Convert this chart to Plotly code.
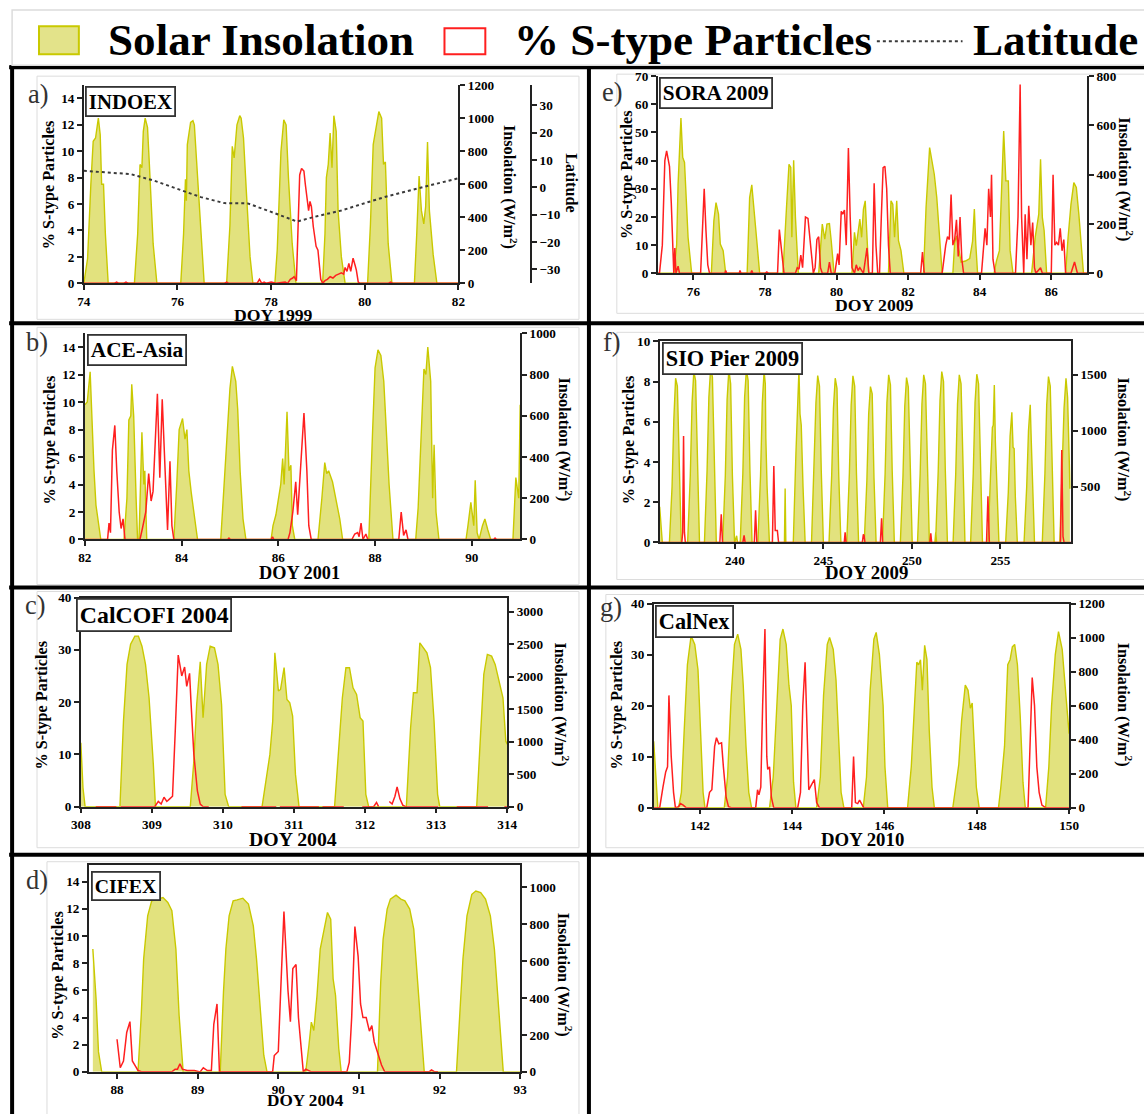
import plotly.graph_objects as go

# The page is shown with the browser's 8 px body margin and then fitted to the
# window, so layout positions are given in window pixels and mapped back here.
WIN_W, WIN_H = 1144, 1114
BODY = 8
SX = (WIN_W + 2 * BODY) / WIN_W
SY = (WIN_H + 2 * BODY) / WIN_H
W, H = WIN_W, WIN_H
SERIF = "Liberation Serif"
YELLOW_LINE = "#c9c900"
YELLOW_FILL = "rgba(206,206,40,0.6)"
RED = "#ff1f1f"
AXIS = "#222222"


def fx(px):
    return (px * SX - BODY) / W


def fy(py):
    return 1 - (py * SY - BODY) / H


def fs(size):
    return round(size * SX, 1)


# ---------------- data: (DOY, value) ----------------
# a) INDOEX 1999
A_INSOLATION = [
    (74.0, 0), (74.08, 150), (74.15, 600), (74.2, 860), (74.25, 880), (74.28, 960), (74.31, 1000),
    (74.35, 900), (74.38, 600), (74.42, 600), (74.46, 300), (74.52, 0),
    (75.08, 0), (75.15, 300), (75.2, 720), (75.24, 700), (75.27, 920), (75.31, 1000), (75.36, 945),
    (75.4, 720), (75.44, 500), (75.48, 240), (75.56, 0),
    (76.07, 0), (76.13, 300), (76.17, 630), (76.19, 500), (76.21, 840), (76.28, 975), (76.33, 985),
    (76.36, 960), (76.41, 720), (76.49, 320), (76.57, 0),
    (77.05, 0), (77.12, 350), (77.17, 830), (77.21, 760), (77.27, 960), (77.33, 1015), (77.36, 1000),
    (77.41, 880), (77.47, 560), (77.55, 160), (77.61, 0),
    (78.08, 0), (78.13, 200), (78.17, 520), (78.21, 800), (78.27, 990), (78.32, 960), (78.37, 640),
    (78.45, 240), (78.53, 0),
    (79.1, 0), (79.15, 300), (79.18, 640), (79.22, 720), (79.26, 910), (79.3, 700), (79.34, 1015),
    (79.39, 920), (79.43, 440), (79.5, 160), (79.58, 0),
    (80.06, 0), (80.12, 350), (80.18, 840), (80.26, 960), (80.3, 1040), (80.36, 1000), (80.4, 720),
    (80.44, 735), (80.5, 240), (80.58, 0),
    (81.06, 0), (81.11, 300), (81.16, 650), (81.21, 440), (81.26, 360), (81.3, 465), (81.34, 855),
    (81.38, 440), (81.46, 175), (81.54, 0), (82.0, 0),
]
A_STYPE = [
    (74.0, 0), (74.65, 0), (74.7, 0.1), (74.75, 0), (74.85, 0), (74.9, 0.1), (74.95, 0), (77.0, 0),
    (77.05, 0.1), (77.1, 0), (77.7, 0), (77.75, 0.3), (77.8, 0), (77.85, 0.1), (77.9, 0), (78.0, 0.1),
    (78.1, 0), (78.3, 0.1), (78.35, 0), (78.41, 0.3), (78.46, 0.4), (78.49, 0.5), (78.54, 0.2),
    (78.57, 3), (78.61, 8.2), (78.65, 8.7), (78.7, 8.5), (78.73, 7.5), (78.76, 6.8), (78.8, 5.5),
    (78.83, 6.2), (78.86, 5.8), (78.9, 4.3), (78.93, 3.5), (78.96, 2.8), (79.0, 2.5), (79.03, 1.2),
    (79.06, 0.3), (79.1, 0), (79.15, 0.2), (79.2, 0.3), (79.26, 0.5), (79.32, 0.4), (79.38, 0.6),
    (79.44, 0.7), (79.5, 0.8), (79.55, 0.7), (79.58, 1.2), (79.62, 0.9), (79.66, 1.5), (79.7, 0.9),
    (79.75, 1.9), (79.79, 1.4), (79.82, 1.0), (79.86, 0.1), (79.9, 0), (80.5, 0), (80.55, 0.1),
    (80.6, 0), (82.0, 0),
]
A_LATITUDE = [
    (74.0, 6.0), (74.5, 5.3), (75.0, 4.8), (75.5, 2.4), (76.0, -0.6), (76.5, -3.6), (77.0, -5.8),
    (77.5, -5.9), (78.0, -9.0), (78.55, -12.5), (79.0, -10.5), (79.5, -8.5), (80.0, -5.8),
    (80.5, -3.2), (81.0, -1.0), (81.5, 1.2), (82.0, 3.3),
]

# b) ACE-Asia 2001
B_INSOLATION = [
    (82.0, 653), (82.05, 667), (82.11, 813), (82.15, 533), (82.19, 333), (82.23, 167), (82.29, 67),
    (82.33, 0),
    (82.81, 0), (82.87, 200), (82.91, 580), (82.95, 600), (82.97, 753), (83.01, 600), (83.06, 200),
    (83.09, 0), (83.12, 0), (83.14, 200), (83.18, 520), (83.22, 267), (83.24, 333), (83.28, 0),
    (83.84, 0), (83.9, 267), (83.95, 533), (84.02, 587), (84.07, 487), (84.11, 533), (84.15, 333),
    (84.2, 227), (84.26, 133), (84.33, 0),
    (84.81, 0), (84.88, 267), (84.94, 513), (85.0, 733), (85.05, 840), (85.12, 767), (85.16, 633),
    (85.21, 333), (85.27, 100), (85.33, 0),
    (85.85, 0), (85.89, 67), (85.95, 120), (86.05, 267), (86.09, 393), (86.12, 267), (86.18, 620),
    (86.22, 333), (86.26, 360), (86.29, 67), (86.34, 0),
    (86.82, 0), (86.9, 200), (86.96, 373), (87.0, 320), (87.04, 333), (87.12, 280), (87.19, 200),
    (87.27, 100), (87.33, 0),
    (87.87, 0), (87.95, 533), (88.0, 833), (88.06, 920), (88.12, 893), (88.18, 767), (88.23, 533),
    (88.29, 267), (88.37, 0),
    (88.84, 0), (88.89, 153), (88.95, 533), (89.01, 827), (89.05, 800), (89.09, 933), (89.15, 767),
    (89.19, 200), (89.22, 460), (89.26, 133), (89.32, 0),
    (89.88, 0), (89.92, 67), (89.98, 180), (90.04, 67), (90.07, 287), (90.11, 33), (90.15, 0),
    (90.22, 67), (90.27, 100), (90.33, 47), (90.39, 0),
    (90.85, 0), (90.91, 300), (90.97, 200), (91.0, 653),
]
B_STYPE = [
    (82.0, 0), (82.47, 0), (82.5, 1.2), (82.53, 0.5), (82.57, 6.5), (82.62, 8.3), (82.66, 5),
    (82.71, 2), (82.75, 0.8), (82.79, 1.5), (82.83, 0), (83.14, 0), (83.19, 0.8), (83.26, 2),
    (83.32, 4.8), (83.37, 2.8), (83.41, 3.5), (83.45, 7), (83.5, 10.6), (83.55, 4.5), (83.6, 10.2),
    (83.66, 5), (83.71, 0.7), (83.76, 5.7), (83.8, 1), (83.84, 0), (84.95, 0), (84.98, 0.1),
    (85.01, 0), (85.85, 0), (85.88, 0.2), (85.91, 0), (86.2, 0), (86.24, 0.5), (86.3, 2.0),
    (86.36, 4.2), (86.4, 1.8), (86.43, 3.5), (86.49, 6.5), (86.53, 9.2), (86.59, 5), (86.63, 1),
    (86.68, 0), (87.52, 0), (87.58, 0.4), (87.64, 0.5), (87.67, 0.2), (87.71, 1.2), (87.75, 0),
    (87.81, 0.4), (87.85, 0), (88.49, 0), (88.54, 2), (88.59, 0.3), (88.64, 0.7), (88.68, 0),
    (90.45, 0), (90.48, 0.1), (90.51, 0), (91.0, 0),
]

# c) CalCOFI 2004
C_INSOLATION = [
    (308.0, 985), (308.03, 292), (308.06, 0),
    (308.55, 0), (308.6, 1318), (308.65, 2190), (308.7, 2500), (308.76, 2626), (308.81, 2626),
    (308.86, 2470), (308.91, 2190), (308.96, 1677), (309.02, 651), (309.05, 0),
    (309.54, 0), (309.59, 702), (309.63, 1574), (309.68, 2230), (309.72, 1370), (309.77, 2190),
    (309.82, 2470), (309.88, 2446), (309.93, 2190), (309.98, 1574), (310.03, 190), (310.08, 0),
    (310.55, 0), (310.6, 395), (310.66, 805), (310.7, 1318), (310.73, 2370), (310.78, 1780),
    (310.81, 1805), (310.86, 2140), (310.9, 1650), (310.94, 1600), (310.98, 1395), (311.02, 497),
    (311.07, 0),
    (311.57, 0), (311.62, 805), (311.68, 1677), (311.73, 2140), (311.78, 2140), (311.83, 1830),
    (311.88, 1728), (311.93, 1370), (311.97, 1318), (312.01, 190), (312.05, 0),
    (312.58, 0), (312.64, 1215), (312.68, 1754), (312.73, 1754), (312.77, 2523), (312.82, 2446),
    (312.87, 2370), (312.92, 2140), (312.97, 1318), (313.02, 190), (313.05, 0),
    (313.57, 0), (313.62, 1060), (313.67, 2036), (313.72, 2344), (313.78, 2318), (313.83, 2190),
    (313.89, 1882), (313.94, 1677), (313.98, 1010), (314.0, 960),
]
C_STYPE = [
    (308.21, 0), (308.5, 0), (308.53, None),
    (308.56, 0), (309.04, 0), (309.09, 1), (309.13, 0.5), (309.17, 1.8), (309.21, 1), (309.25, 1.5),
    (309.29, 2), (309.33, 15), (309.37, 29), (309.42, 25), (309.46, 26.7), (309.49, 23),
    (309.53, 25.5), (309.55, 20), (309.59, 10), (309.64, 3), (309.68, 0.5), (309.72, 0), (309.8, 0),
    (310.0, None),
    (310.26, 0), (310.75, 0), (310.77, None), (310.8, 0), (311.35, 0), (311.37, None), (311.4, 0),
    (311.7, 0), (311.8, None),
    (311.96, 0), (312.12, 0), (312.16, 0.8), (312.19, 0), (312.25, None),
    (312.34, 1), (312.38, 0.5), (312.42, 2), (312.45, 3.8), (312.49, 1.5), (312.53, 0.3),
    (312.57, 0), (313.03, 0), (313.1, None),
    (313.29, 0), (313.73, 0), (313.8, None), (313.96, 0), (314.0, 0),
]

# d) CIFEX 2004
D_INSOLATION = [
    (87.7, 664), (87.74, 395), (87.77, 108), (87.81, 0),
    (88.26, 0), (88.3, 305), (88.33, 610), (88.38, 844), (88.43, 925), (88.5, 934), (88.57, 943),
    (88.63, 916), (88.68, 871), (88.73, 664), (88.77, 305), (88.82, 0),
    (89.28, 0), (89.32, 431), (89.35, 664), (89.39, 844), (89.44, 925), (89.49, 930), (89.56, 939),
    (89.63, 907), (89.69, 790), (89.73, 610), (89.78, 341), (89.82, 90), (89.86, 0),
    (90.34, 0), (90.38, 144), (90.41, 269), (90.44, 224), (90.48, 413), (90.52, 664), (90.57, 772),
    (90.61, 862), (90.65, 826), (90.68, 503), (90.71, 413), (90.75, 126), (90.78, 0),
    (91.23, 0), (91.27, 485), (91.3, 718), (91.35, 880), (91.39, 934), (91.46, 955), (91.52, 934),
    (91.57, 925), (91.63, 880), (91.68, 772), (91.73, 485), (91.78, 197), (91.81, 0),
    (92.21, 0), (92.25, 305), (92.29, 610), (92.34, 844), (92.4, 960), (92.45, 978), (92.51, 969),
    (92.57, 934), (92.63, 844), (92.68, 664), (92.74, 305), (92.79, 0), (93.0, 0),
]
D_STYPE = [
    (88.0, 2.4), (88.04, 0.3), (88.08, 0.8), (88.12, 2.9), (88.16, 3.7), (88.19, 0.8), (88.23, 0.4),
    (88.26, 0.1), (88.31, 0), (88.68, 0), (88.72, 0.2), (88.75, 0.2), (88.78, 0.6), (88.81, 0.2),
    (88.87, 0.1), (88.96, 0.1), (89.03, 0), (89.07, 0.3), (89.12, 0.1), (89.17, 0.1), (89.2, 3.5),
    (89.24, 5), (89.27, 0), (89.93, 0), (89.95, 1.2), (90.0, 1.5), (90.03, 6), (90.07, 11.8),
    (90.12, 6), (90.15, 3.7), (90.18, 7.6), (90.22, 7.9), (90.25, 4), (90.29, 1.5), (90.31, 0),
    (90.34, 0.2), (90.38, 0.1), (90.41, 0), (90.85, 0), (90.88, 0.7), (90.91, 4), (90.95, 10.7),
    (90.99, 8.5), (91.02, 5), (91.05, 4), (91.09, 4), (91.13, 3), (91.16, 3.4), (91.19, 2.2),
    (91.23, 1.5), (91.28, 0.5), (91.32, 0), (91.87, 0), (91.9, 0.15), (91.94, 0), (91.98, 0),
]

# e) SORA 2009
E_INSOLATION = [
    (75.0, 0), (75.45, 0), (75.53, 115), (75.57, 360), (75.65, 630), (75.7, 470), (75.75, 450),
    (75.8, 310), (75.85, 145), (75.95, 0),
    (76.5, 0), (76.57, 213), (76.63, 287), (76.7, 240), (76.75, 119), (76.83, 92), (76.9, 0),
    (77.5, 0), (77.57, 307), (77.63, 359), (77.7, 227), (77.77, 132), (77.85, 0),
    (78.5, 0), (78.6, 267), (78.67, 442), (78.72, 430), (78.75, 146), (78.8, 459), (78.85, 227),
    (78.93, 0),
    (79.5, 0), (79.6, 200), (79.67, 139), (79.73, 200), (79.8, 202), (79.85, 132), (79.93, 0),
    (80.43, 0), (80.5, 166), (80.55, 112), (80.6, 180), (80.65, 220), (80.7, 146), (80.75, 260),
    (80.8, 294), (80.85, 132), (80.9, 0),
    (81.45, 0), (81.52, 294), (81.57, 280), (81.62, 146), (81.68, 294), (81.73, 132), (81.8, 92),
    (81.88, 0),
    (82.43, 0), (82.5, 267), (82.6, 510), (82.67, 450), (82.73, 402), (82.8, 307), (82.87, 159),
    (82.95, 0),
    (83.25, 0), (83.3, 125), (83.35, 152), (83.42, 100), (83.48, 45), (83.6, 50), (83.72, 60),
    (83.8, 130), (83.85, 261), (83.89, 120), (83.94, 0),
    (84.4, 0), (84.47, 51), (84.55, 92), (84.62, 429), (84.67, 577), (84.73, 375), (84.8, 375),
    (84.85, 92), (84.93, 0),
    (85.45, 0), (85.55, 146), (85.65, 240), (85.7, 463), (85.75, 227), (85.8, 173), (85.87, 0),
    (86.4, 0), (86.47, 146), (86.55, 280), (86.63, 368), (86.7, 348), (86.77, 240), (86.85, 92),
    (86.9, 0), (87.0, 0),
]
E_STYPE = [
    (75.0, 0), (75.05, 0), (75.13, 10), (75.2, 40), (75.25, 43.5), (75.33, 38), (75.38, 25),
    (75.43, 5), (75.45, 0), (75.48, 9), (75.51, 0), (75.57, 2.5), (75.61, 0), (76.2, 0),
    (76.25, 15), (76.3, 30), (76.35, 15), (76.4, 3), (76.45, 0), (76.88, 0), (76.9, 1), (76.93, 0),
    (77.28, 0), (77.3, 1), (77.33, 0), (77.6, 0), (77.63, 1), (77.66, 0), (78.0, 0), (78.05, 0.5),
    (78.1, 0), (78.35, 0), (78.4, 15.5), (78.47, 8), (78.53, 0), (78.85, 0), (78.9, 2),
    (78.95, 1.5), (79.0, 6.5), (79.05, 2), (79.13, 20), (79.2, 19.5), (79.27, 10), (79.35, 0),
    (79.4, 2), (79.45, 12), (79.5, 13), (79.55, 2), (79.6, 0), (79.75, 0), (79.8, 4), (79.85, 0),
    (79.95, 0), (80.03, 7), (80.07, 3), (80.13, 22), (80.17, 21), (80.22, 22.5), (80.27, 10),
    (80.33, 44.5), (80.38, 20), (80.43, 2), (80.5, 0), (80.55, 3), (80.6, 1), (80.65, 2),
    (80.75, 0), (80.85, 9), (80.9, 0), (81.0, 0), (81.05, 32), (81.1, 10), (81.15, 0), (81.2, 0),
    (81.25, 20), (81.3, 37.5), (81.35, 38), (81.4, 30), (81.45, 10), (81.5, 0), (82.35, 0),
    (82.4, 7.5), (82.45, 0), (82.95, 0), (83.05, 10), (83.1, 13), (83.15, 12), (83.2, 28),
    (83.25, 10), (83.3, 12), (83.35, 19), (83.4, 6), (83.45, 20), (83.5, 5), (83.55, 0),
    (84.05, 0), (84.15, 16), (84.2, 10), (84.25, 30), (84.3, 20), (84.33, 35), (84.37, 5),
    (84.43, 0), (85.0, 0), (85.07, 20), (85.13, 67), (85.17, 20), (85.23, 0), (85.27, 21),
    (85.32, 5), (85.37, 24), (85.43, 10), (85.48, 18), (85.53, 2), (85.57, 0), (85.7, 2),
    (85.75, 0), (86.0, 0), (86.05, 35), (86.1, 10), (86.15, 11), (86.2, 10), (86.25, 16),
    (86.3, 8), (86.35, 12), (86.4, 0), (86.55, 0), (86.6, 2), (86.65, 4), (86.73, 0), (87.0, 0),
]

# f) SIO Pier 2009
F_INSOLATION = [
    (235.75, 320), (235.8, 200), (235.9, 0),
    (236.3, 0), (236.45, 500), (236.55, 1100), (236.65, 1470), (236.75, 1400), (236.85, 700), (236.97, 0),
    (237.33, 0), (237.48, 600), (237.58, 1250), (237.68, 1530), (237.78, 1450), (237.88, 650), (238.0, 0),
    (238.28, 0), (238.43, 650), (238.53, 1300), (238.63, 1560), (238.73, 1480), (238.83, 700), (238.95, 0),
    (239.31, 0), (239.46, 600), (239.56, 1280), (239.66, 1545), (239.76, 1420), (239.86, 600), (239.98, 0),
    (240.1, 60), (240.15, 0),
    (240.3, 0), (240.45, 620), (240.55, 1300), (240.65, 1545), (240.75, 1450), (240.85, 650), (240.97, 0),
    (241.3, 0), (241.45, 600), (241.55, 1250), (241.65, 1530), (241.72, 1420), (241.75, 930), (241.82, 500),
    (241.95, 0),
    (242.8, 0), (242.84, 484), (242.88, 0),
    (243.3, 0), (243.45, 800), (243.55, 1200), (243.62, 1545), (243.68, 1150), (243.75, 1050), (243.85, 500),
    (243.97, 0),
    (244.33, 0), (244.48, 650), (244.58, 1250), (244.68, 1494), (244.78, 1400), (244.88, 650), (245.0, 0),
    (245.32, 0), (245.47, 600), (245.57, 1200), (245.67, 1470), (245.77, 1380), (245.87, 600), (245.99, 0),
    (246.32, 0), (246.47, 620), (246.57, 1230), (246.67, 1491), (246.77, 1400), (246.87, 620), (246.99, 0),
    (247.31, 0), (247.46, 560), (247.56, 1150), (247.66, 1395), (247.76, 1330), (247.86, 580), (247.98, 0),
    (248.34, 0), (248.49, 620), (248.59, 1250), (248.69, 1500), (248.79, 1410), (248.89, 640), (249.01, 0),
    (249.35, 0), (249.5, 600), (249.6, 1220), (249.7, 1476), (249.8, 1390), (249.9, 620), (250.02, 0),
    (250.32, 0), (250.47, 620), (250.57, 1240), (250.67, 1500), (250.77, 1420), (250.87, 640), (250.99, 0),
    (251.3, 0), (251.35, 90), (251.4, 0),
    (251.34, 0), (251.49, 640), (251.59, 1270), (251.69, 1530), (251.79, 1440), (251.89, 650), (252.01, 0),
    (252.33, 0), (252.48, 620), (252.58, 1240), (252.68, 1500), (252.78, 1420), (252.88, 640), (253.0, 0),
    (253.32, 0), (253.47, 620), (253.57, 1250), (253.67, 1506), (253.77, 1420), (253.87, 640), (253.99, 0),
    (254.3, 0), (254.45, 550), (254.55, 1030), (254.6, 1050), (254.66, 1410), (254.72, 900), (254.8, 500),
    (254.92, 0),
    (255.3, 0), (255.45, 450), (255.55, 950), (255.65, 1166), (255.72, 850), (255.78, 840), (255.85, 400),
    (255.96, 0),
    (256.34, 0), (256.49, 500), (256.59, 1000), (256.69, 1233), (256.75, 900), (256.82, 450), (256.93, 0),
    (257.37, 0), (257.52, 620), (257.62, 1230), (257.72, 1485), (257.82, 1400), (257.92, 620), (258.04, 0),
    (258.36, 0), (258.5, 600), (258.6, 1200), (258.71, 1470), (258.8, 1300), (258.9, 700), (258.93, 480),
]
F_STYPE = [
    (235.75, 0), (237.0, 0), (237.05, 0.5), (237.1, 5.3), (237.15, 0.5), (237.2, 0), (239.15, 0),
    (239.23, 1.4), (239.3, 0), (240.45, 0), (240.52, 0.35), (240.58, 0), (241.1, 0), (241.17, 1.6),
    (241.24, 0), (242.12, 0), (242.2, 3.8), (242.28, 0.6), (242.35, 0.6), (242.4, 0.6), (242.47, 0),
    (246.18, 0), (246.23, 0.5), (246.28, 0), (247.2, 0), (247.26, 0.4), (247.3, 0.35), (247.35, 0),
    (248.22, 0), (248.29, 1.2), (248.35, 0), (251.02, 0), (251.07, 0.45), (251.12, 0), (254.22, 0),
    (254.3, 2.3), (254.38, 0), (258.4, 0), (258.47, 4.6), (258.54, 0.3), (258.6, 0), (259.0, 0),
]

# g) CalNex 2010
G_INSOLATION = [
    (141.0, 390), (141.05, 195), (141.09, 0),
    (141.54, 0), (141.6, 90), (141.66, 450), (141.73, 840), (141.81, 1010), (141.89, 960),
    (141.96, 810), (142.01, 450), (142.07, 90), (142.11, 0),
    (142.53, 0), (142.6, 180), (142.68, 660), (142.75, 960), (142.82, 1020), (142.89, 930),
    (142.94, 720), (143.0, 360), (143.06, 90), (143.12, 0),
    (143.51, 0), (143.59, 180), (143.66, 600), (143.74, 990), (143.8, 1050), (143.87, 960),
    (143.93, 720), (143.98, 600), (144.03, 150), (144.08, 0),
    (144.53, 0), (144.61, 180), (144.68, 660), (144.76, 960), (144.81, 1000), (144.89, 930),
    (144.95, 750), (145.01, 360), (145.06, 90), (145.12, 0),
    (145.54, 0), (145.61, 180), (145.69, 690), (145.77, 990), (145.82, 1030), (145.89, 900),
    (145.95, 660), (145.97, 600), (146.01, 240), (146.07, 0),
    (146.5, 0), (146.58, 240), (146.65, 600), (146.7, 855), (146.74, 840), (146.78, 870),
    (146.82, 690), (146.87, 954), (146.92, 870), (146.97, 450), (147.03, 120), (147.08, 0),
    (147.48, 0), (147.56, 150), (147.61, 255), (147.67, 510), (147.75, 720), (147.81, 690),
    (147.86, 585), (147.9, 615), (147.94, 390), (147.99, 120), (148.05, 0),
    (148.47, 0), (148.52, 120), (148.6, 360), (148.67, 840), (148.72, 870), (148.77, 945),
    (148.82, 960), (148.88, 840), (148.94, 540), (149.0, 150), (149.05, 0),
    (149.49, 0), (149.56, 240), (149.62, 600), (149.7, 900), (149.77, 1035), (149.85, 930),
    (149.93, 660), (150.0, 435),
]
G_STYPE = [
    (141.0, 0), (141.13, 0), (141.2, 4), (141.26, 7), (141.3, 8), (141.33, 22), (141.38, 10),
    (141.43, 3), (141.47, 0), (141.54, 0.2), (141.58, 0.8), (141.64, 0.5), (141.7, 0), (142.15, 0),
    (142.21, 3), (142.26, 3.5), (142.32, 12), (142.36, 13.7), (142.41, 12.5), (142.47, 12.7),
    (142.51, 8), (142.57, 2), (142.62, 0.2), (142.68, 0), (143.21, 0), (143.25, 3.5), (143.28, 2.5),
    (143.32, 4), (143.36, 20), (143.41, 35), (143.45, 10), (143.47, 7.5), (143.51, 8), (143.55, 2),
    (143.6, 0), (144.12, 0), (144.18, 3), (144.23, 20), (144.28, 28.5), (144.33, 10), (144.36, 3.5),
    (144.42, 4.5), (144.48, 5.5), (144.53, 1), (144.59, 0), (145.29, 0), (145.33, 10), (145.37, 1),
    (145.42, 0.8), (145.46, 1.5), (145.52, 0.5), (145.55, 0), (149.11, 0), (149.17, 15),
    (149.2, 25.5), (149.25, 20), (149.3, 8), (149.35, 3), (149.41, 0.5), (149.49, 0), (150.0, 0),
]

CAMPAIGNS = ["INDOEX", "SORA 2009", "ACE-Asia", "SIO Pier 2009", "CalCOFI 2004", "CalNex", "CIFEX"]
LETTERS = ["a)", "e)", "b)", "f)", "c)", "g)", "d)"]
DOY_TITLES = ["DOY 1999", "DOY 2009", "DOY 2001", "DOY 2009", "DOY 2004", "DOY 2010", "DOY 2004"]
INSOLATION = [A_INSOLATION, E_INSOLATION, B_INSOLATION, F_INSOLATION, C_INSOLATION, G_INSOLATION, D_INSOLATION]
STYPE = [A_STYPE, E_STYPE, B_STYPE, F_STYPE, C_STYPE, G_STYPE, D_STYPE]

# ---------------- panel geometry (window pixels) and axis setup ----------------
PANELS = [
    dict(xr=[74, 82], xpx=(82, 458), ypx=(86, 284), sr=[0, 15], sticks=list(range(0, 15, 2)),
         ir=[0, 1200], iticks=list(range(0, 1201, 200)), xticks=list(range(74, 83, 2)), mirror=False,
         ltitle=(47, 185), rtitle=(510, 188), doy=(272, 316), box=(83, 87), letter=(36, 95),
         boxsize=20.5, doysize=17.5),
    dict(xr=[75, 87], xpx=(658, 1089), ypx=(77, 274), sr=[0, 70], sticks=list(range(0, 71, 10)),
         ir=[0, 800], iticks=list(range(0, 801, 200)), xticks=list(range(76, 87, 2)), mirror=False,
         ltitle=(627, 175), rtitle=(1128, 180), doy=(876, 306), box=(659, 78), letter=(613, 93),
         boxsize=21, doysize=17.5),
    dict(xr=[82, 91], xpx=(83, 520), ypx=(334, 540), sr=[0, 15], sticks=list(range(0, 15, 2)),
         ir=[0, 1000], iticks=list(range(0, 1001, 200)), xticks=list(range(82, 91, 2)), mirror=False,
         ltitle=(48, 440), rtitle=(565, 440), doy=(298, 573), box=(85, 335), letter=(35, 343),
         boxsize=21, doysize=18),
    dict(xr=[235.75, 259], xpx=(660, 1073), ypx=(342, 543), sr=[0, 10], sticks=list(range(0, 11, 2)),
         ir=[0, 1800], iticks=[500, 1000, 1500], xticks=[240, 245, 250, 255], mirror=True,
         ltitle=(630, 440), rtitle=(1126, 440), doy=(868, 573), box=(662, 343), letter=(612, 343),
         boxsize=22, doysize=18.5),
    dict(xr=[308, 314], xpx=(79, 507), ypx=(598, 807), sr=[0, 40], sticks=list(range(0, 41, 10)),
         ir=[0, 3220], iticks=list(range(0, 3001, 500)), xticks=list(range(308, 315)), mirror=True,
         ltitle=(40, 705), rtitle=(561, 705), doy=(292, 839), box=(74, 598), letter=(33, 605),
         boxsize=23.5, doysize=19.5),
    dict(xr=[141, 150], xpx=(654, 1071), ypx=(604, 808), sr=[0, 40], sticks=list(range(0, 41, 10)),
         ir=[0, 1200], iticks=list(range(0, 1201, 200)), xticks=list(range(142, 151, 2)), mirror=True,
         ltitle=(617, 705), rtitle=(1126, 705), doy=(864, 840), box=(655, 605), letter=(611, 607),
         boxsize=22, doysize=18.5),
    dict(xr=[87.65, 93], xpx=(87, 520), ypx=(865, 1072), sr=[0, 15.25], sticks=list(range(0, 15, 2)),
         ir=[0, 1120], iticks=list(range(0, 1001, 200)), xticks=list(range(88, 94)), mirror=True,
         ltitle=(56, 975), rtitle=(564, 975), doy=(304, 1101), box=(89, 871), letter=(35, 880),
         boxsize=19.5, doysize=17),
]

TICKFONT = dict(family=SERIF, size=fs(13), color="black", weight="bold")


def axis_common():
    return dict(showgrid=False, zeroline=False, showline=True, linecolor=AXIS, linewidth=1.5,
                ticks="outside", ticklen=5, tickwidth=1.5, tickcolor=AXIS, tickfont=TICKFONT)


def unzip(pairs):
    return [p[0] for p in pairs], [p[1] for p in pairs]


def label(x, y, text, font, **kw):
    spec = dict(x=fx(x), y=fy(y), xref="paper", yref="paper", text=text, showarrow=False,
                xanchor="center", yanchor="middle", font=font)
    spec.update(kw)
    return spec


def bold(size):
    return dict(family=SERIF, size=fs(size), color="black", weight="bold")


fig = go.Figure()
layout = dict(width=W, height=H, margin=dict(l=0, r=0, t=0, b=0), paper_bgcolor="white",
              plot_bgcolor="rgba(0,0,0,0)", showlegend=False)
annotations = []
shapes = []

TITLE_FONT = bold(16)
LETTER_FONT = dict(family=SERIF, size=fs(26), color="#333333")

for i, p in enumerate(PANELS):
    n = i + 1
    xname = "x" if n == 1 else f"x{n}"
    ins_n, st_n = 2 * n - 1, 2 * n
    ins_name = "y" if ins_n == 1 else f"y{ins_n}"
    st_name = f"y{st_n}"
    xkey = "xaxis" if n == 1 else f"xaxis{n}"
    ins_key = "yaxis" if ins_n == 1 else f"yaxis{ins_n}"
    st_key = f"yaxis{st_n}"
    ydom = [fy(p["ypx"][1]), fy(p["ypx"][0])]

    layout[xkey] = dict(axis_common(), domain=[fx(p["xpx"][0]), fx(p["xpx"][1])], range=p["xr"],
                        tickvals=p["xticks"], anchor=ins_name, mirror=p["mirror"])
    layout[ins_key] = dict(axis_common(), domain=ydom, range=p["ir"], tickvals=p["iticks"],
                           anchor=xname, side="right")
    layout[st_key] = dict(axis_common(), domain=ydom, range=p["sr"], tickvals=p["sticks"],
                          anchor=xname, side="left", overlaying=ins_name)

    ix, iy = unzip(INSOLATION[i])
    fig.add_trace(go.Scatter(x=ix, y=iy, xaxis=xname, yaxis=ins_name, mode="lines",
                             line=dict(color=YELLOW_LINE, width=1.4), fill="tozeroy",
                             fillcolor=YELLOW_FILL, hoverinfo="skip"))
    sx, sy = unzip(STYPE[i])
    fig.add_trace(go.Scatter(x=sx, y=sy, xaxis=xname, yaxis=st_name, mode="lines",
                             line=dict(color=RED, width=1.5), connectgaps=False, hoverinfo="skip"))

    annotations.append(label(*p["ltitle"], "% S-type Particles", TITLE_FONT, textangle=-90))
    annotations.append(label(*p["rtitle"], "Insolation (W/m<sup>2</sup>)", TITLE_FONT, textangle=90))
    annotations.append(label(*p["doy"], DOY_TITLES[i], bold(p["doysize"])))
    annotations.append(label(*p["box"], CAMPAIGNS[i], bold(p["boxsize"]), xanchor="left",
                             yanchor="top", bgcolor="white", bordercolor="#333333",
                             borderwidth=1.8, borderpad=2))
    annotations.append(label(*p["letter"], LETTERS[i], LETTER_FONT))

# latitude track for INDOEX on its own free axis
layout["yaxis15"] = dict(axis_common(), domain=[fy(284), fy(86)], range=[-35.1, 37.3],
                         tickvals=[-30, -20, -10, 0, 10, 20, 30], overlaying="y", anchor="free",
                         position=fx(531), side="right")
lx, ly = unzip(A_LATITUDE)
fig.add_trace(go.Scatter(x=lx, y=ly, xaxis="x", yaxis="y15", mode="lines",
                         line=dict(color="#3a3a3a", width=2, dash="dot"), hoverinfo="skip"))
annotations.append(label(571, 183, "Latitude", TITLE_FONT, textangle=90))

# light grey frames around each panel
for x0, y0, x1, y1 in [(35, 77, 579, 320), (617, 75, 1160, 314), (35, 328, 579, 585),
                       (617, 333, 1160, 580), (35, 592, 579, 848), (606, 595, 1160, 848),
                       (45, 862, 579, 1130)]:
    shapes.append(dict(type="rect", xref="paper", yref="paper", x0=fx(x0), x1=fx(x1), y0=fy(y1),
                       y1=fy(y0), line=dict(color="#dcdcdc", width=1), layer="below"))

# heavy black separators
for x0, y0, x1, y1 in [(7, 68, 1160, 68), (10, 66, 10, 1130), (589, 66, 589, 1130),
                       (7, 324, 1160, 324), (7, 588, 1160, 588), (7, 855, 1160, 855)]:
    shapes.append(dict(type="line", xref="paper", yref="paper", x0=fx(x0), x1=fx(x1), y0=fy(y0),
                       y1=fy(y1), line=dict(color="black", width=4)))

# legend strip
shapes.append(dict(type="rect", xref="paper", yref="paper", x0=fx(10), x1=fx(1160), y0=fy(66),
                   y1=fy(11), line=dict(color="#dcdcdc", width=1.5)))
shapes.append(dict(type="rect", xref="paper", yref="paper", x0=fx(37), x1=fx(77), y0=fy(55),
                   y1=fy(27), fillcolor="#e3e38a", line=dict(color=YELLOW_LINE, width=2)))
shapes.append(dict(type="rect", xref="paper", yref="paper", x0=fx(444), x1=fx(485), y0=fy(55),
                   y1=fy(29), fillcolor="white", line=dict(color=RED, width=2)))
shapes.append(dict(type="line", xref="paper", yref="paper", x0=fx(878), x1=fx(964), y0=fy(42),
                   y1=fy(42), line=dict(color="#3a3a3a", width=2, dash="dot")))
for x, txt in [(104, "Solar Insolation"), (512, "% S-type Particles"), (972, "Latitude")]:
    annotations.append(label(x, 41, txt, bold(44.5), xanchor="left"))

layout["annotations"] = annotations
layout["shapes"] = shapes
fig.update_layout(**layout)
fig.write_html("out.html")
